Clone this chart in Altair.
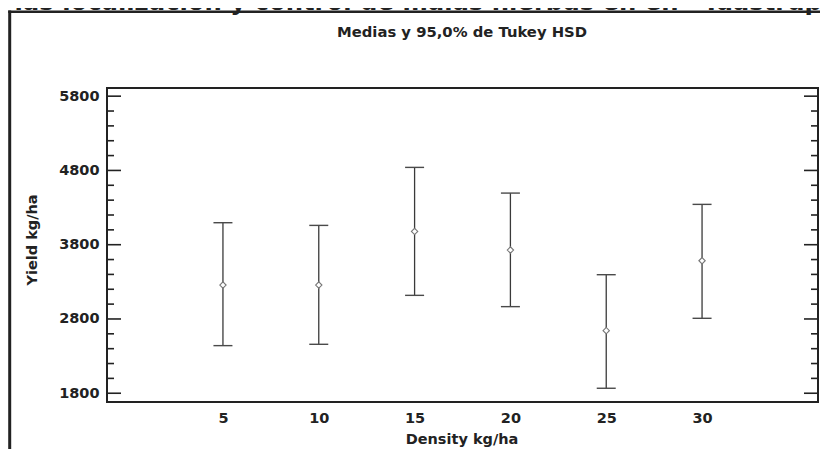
import altair as alt
import pandas as pd

# ---- data ----
density = [5, 10, 15, 20, 25, 30]
mean_yield = [3257, 3257, 3979, 3728, 2643, 3584]
lower_yield = [2441, 2459, 3118, 2966, 1867, 2809]
upper_yield = [4096, 4060, 4841, 4495, 3396, 4343]

y_labels = [1800, 2800, 3800, 4800, 5800]
y_minor = [2000, 2200, 2400, 2600, 3000, 3200, 3400, 3600,
           4000, 4200, 4400, 4600, 5000, 5200, 5400, 5600]
x_labels = [5, 10, 15, 20, 25, 30]

top_title = "las localización y control de malas hierbas en en  \u201cTaastrup"
sub_title = "Medias y 95,0% de Tukey HSD"
x_title = "Density kg/ha"
y_title = "Yield kg/ha"

FONT = "DejaVu Sans"
INK = "#222222"
W, H = 711, 314

df = pd.DataFrame({"density": density, "mean": mean_yield,
                   "lower": lower_yield, "upper": upper_yield})
major_df = pd.DataFrame({"v": y_labels})
minor_df = pd.DataFrame({"v": y_minor})
one = pd.DataFrame({"a": [0]})

xs = alt.Scale(domain=[-1.05, 36.05], nice=False, zero=False)
ys = alt.Scale(domain=[1682, 5910], nice=False, zero=False)

x_axis = alt.Axis(values=x_labels, title=None, ticks=False, domain=False, grid=False,
                  format="d",
                  labelFont=FONT, labelFontSize=14.5, labelFontWeight="bold",
                  labelColor=INK, labelPadding=9, labelFlush=False)
y_axis = alt.Axis(values=y_labels, title=None, ticks=False, domain=False, grid=False,
                  format="d",
                  labelFont=FONT, labelFontSize=14.5, labelFontWeight="bold",
                  labelColor=INK, labelPadding=8, labelFlush=False)

X = alt.X("density:Q", scale=xs, axis=x_axis)

bars = alt.Chart(df).mark_rule(color="#3a3a3a", strokeWidth=1.3).encode(
    x=X,
    y=alt.Y("lower:Q", scale=ys, axis=y_axis),
    y2="upper:Q",
)
cap_lo = alt.Chart(df).mark_tick(orient="horizontal", size=19, thickness=1.4,
                                 color="#4a4a4a", opacity=1).encode(
    x=X, y=alt.Y("lower:Q", scale=ys, axis=y_axis),
)
cap_hi = alt.Chart(df).mark_tick(orient="horizontal", size=19, thickness=1.4,
                                 color="#4a4a4a", opacity=1).encode(
    x=X, y=alt.Y("upper:Q", scale=ys, axis=y_axis),
)
pts = alt.Chart(df).mark_point(shape="diamond", size=40, filled=True, fill="white",
                               stroke="#777777", strokeWidth=1.1, opacity=1).encode(
    x=X, y=alt.Y("mean:Q", scale=ys, axis=y_axis),
)

def ticks(data, length, left=True):
    x0 = 0 if left else W
    x1 = length if left else W - length
    return alt.Chart(data).mark_rule(color=INK, strokeWidth=1.6).encode(
        x=alt.value(x0), x2=alt.value(x1),
        y=alt.Y("v:Q", scale=ys, axis=y_axis),
    )

tick_layers = [ticks(major_df, 14, True), ticks(minor_df, 7, True),
               ticks(major_df, 14, False), ticks(minor_df, 7, False)]

# outer frame of the figure
frame_left = alt.Chart(one).mark_rule(color=INK, strokeWidth=3).encode(
    x=alt.value(-97.3), y=alt.value(-77.5), y2=alt.value(H + 60))
frame_top = alt.Chart(one).mark_rule(color=INK, strokeWidth=2.6).encode(
    x=alt.value(-98.8), x2=alt.value(W + 12), y=alt.value(-76.2))

def label(txt, x, y, size, align="center", baseline="alphabetic", angle=0):
    kw = dict(font=FONT, fontSize=size, fontWeight="bold", color=INK,
              align=align, baseline=baseline)
    if angle:
        kw["angle"] = angle
    return alt.Chart(one).mark_text(**kw).encode(
        x=alt.value(x), y=alt.value(y), text=alt.value(txt))

texts = [
    label(top_title, 715, -78.5, 24.3, align="right"),
    label(sub_title, 355, -51, 14.8),
    label(x_title, 355, 356, 14.5),
    label(y_title, -74, 152, 14.5, baseline="middle", angle=270),
]

chart = alt.layer(
    frame_left, frame_top, *tick_layers, bars, cap_lo, cap_hi, pts, *texts
).properties(
    width=W, height=H,
    autosize=alt.AutoSizeParams(type="none"),
    padding={"left": 99, "top": 80, "right": 2, "bottom": 47},
    background="white",
).configure_view(stroke=INK, strokeWidth=2)

chart.save("out.html", embed_options={"renderer": "svg", "actions": False})
